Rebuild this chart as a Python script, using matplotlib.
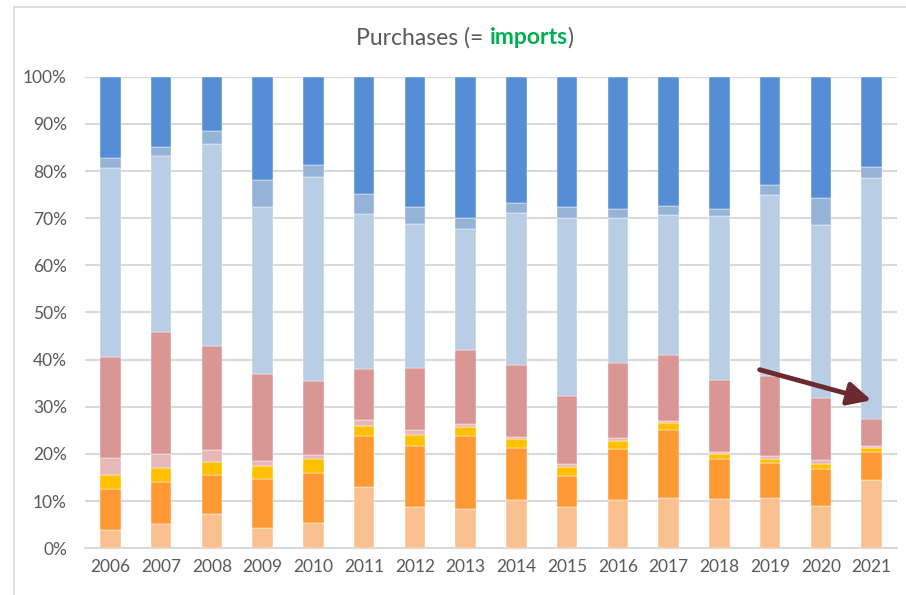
import matplotlib
matplotlib.use("Agg")
import matplotlib.pyplot as plt
from matplotlib.patches import FancyArrowPatch
from matplotlib.lines import Line2D
import numpy as np

years = ["2006", "2007", "2008", "2009", "2010", "2011", "2012", "2013",
         "2014", "2015", "2016", "2017", "2018", "2019", "2020", "2021"]

# cumulative boundaries (top of each segment, in %)
top_peach  = [3.9, 5.1, 7.3, 4.3, 5.3, 13.0, 8.7, 8.3, 10.2, 8.7, 10.2, 10.7, 10.5, 10.7, 8.9, 14.4]
top_orange = [12.5, 14.0, 15.5, 14.7, 16.0, 23.9, 21.6, 23.9, 21.3, 15.4, 21.1, 25.1, 19.0, 18.1, 16.9, 20.5]
top_yellow = [15.5, 17.1, 18.2, 17.4, 18.9, 26.0, 24.1, 25.7, 23.2, 17.3, 22.8, 26.6, 20.1, 19.0, 17.9, 21.3]
top_lpink  = [19.1, 19.9, 20.8, 18.5, 19.7, 27.1, 25.1, 26.4, 23.7, 17.8, 23.4, 27.0, 20.4, 19.5, 18.7, 21.7]
top_rose   = [40.6, 45.9, 42.9, 37.0, 35.5, 38.0, 38.2, 42.0, 38.9, 32.3, 39.3, 41.0, 35.7, 36.6, 31.9, 27.4]
top_lblue  = [80.7, 83.2, 85.7, 72.4, 78.7, 70.9, 68.8, 67.6, 71.2, 70.1, 70.1, 70.7, 70.5, 74.9, 68.6, 78.5]
top_mblue  = [82.7, 85.1, 88.4, 78.2, 81.3, 75.1, 72.4, 70.1, 73.2, 72.4, 71.9, 72.6, 71.9, 77.0, 74.3, 80.9]
top_blue   = [100.0] * 16

tops = [top_peach, top_orange, top_yellow, top_lpink, top_rose, top_lblue, top_mblue, top_blue]
colors = ["#FAC090", "#FF9933", "#FFC000", "#E6B9B8", "#D99694", "#B9CDE5", "#95B3D7", "#558ED5"]

fig = plt.figure(figsize=(9.06, 5.95), dpi=100)
ax = fig.add_axes([85/906, 1 - 548.3/595, (897 - 85)/906, (548.3 - 76.7)/595])

x = np.arange(len(years))
prev = np.zeros(len(years))
for t, c in zip(tops, colors):
    t = np.array(t)
    ax.bar(x, t - prev, bottom=prev, width=0.40, color=c, edgecolor="white",
           linewidth=0.3, zorder=3)
    prev = t

ax.set_xlim(-0.5, len(years) - 0.5)
ax.set_ylim(0, 100)
ax.set_yticks(np.arange(0, 101, 10))
ax.set_yticklabels([f"{v}%" for v in range(0, 101, 10)])
ax.set_xticks(x)
ax.set_xticklabels(years)
ax.yaxis.grid(True, color="#D9D9D9", linewidth=1.5, zorder=0)
for s in ["top", "right", "left"]:
    ax.spines[s].set_visible(False)
ax.spines["bottom"].set_color("#D9D9D9")
ax.spines["bottom"].set_linewidth(1.5)
ax.tick_params(axis="both", length=0, colors="#595959", labelsize=12.5)
ax.tick_params(axis="y", pad=13)
ax.tick_params(axis="x", pad=8)
for lab in ax.get_xticklabels() + ax.get_yticklabels():
    lab.set_fontfamily("Lato")

# title, centred at x=465 px
ty = 1 - 38/595
parts = [("Purchases (= ", "#595959", "normal"), ("imports", "#00B050", "bold"),
         (")", "#595959", "normal")]
fig.canvas.draw()
r = fig.canvas.get_renderer()
objs = []
xpos = 0.0
for txt, col, w in parts:
    o = fig.text(xpos, ty, txt, ha="left", va="center", fontsize=16.5,
                 color=col, family="Lato", fontweight=w)
    fig.canvas.draw()
    bb = o.get_window_extent(r)
    objs.append((o, bb.width))
    xpos = bb.x1 / fig.bbox.width
total = sum(wd for _, wd in objs)
start = 465 - total / 2
for o, wd in objs:
    o.set_x(start / fig.bbox.width)
    start += wd

# arrow annotation
arr = FancyArrowPatch((757, 595 - 369), (874, 595 - 401), transform=None,
                      arrowstyle="-|>,head_length=14,head_width=7",
                      color="#6B2A30", linewidth=3.5, zorder=10)
fig.add_artist(arr)

# frame
fig.add_artist(Line2D([14/906, 14/906], [0, 1 - 7/595], transform=fig.transFigure,
                      color="#D9D9D9", linewidth=1.2))
fig.add_artist(Line2D([14/906, 1], [1 - 7/595, 1 - 7/595], transform=fig.transFigure,
                      color="#D9D9D9", linewidth=1.2))

fig.savefig("out.png", dpi=100, facecolor="white")
